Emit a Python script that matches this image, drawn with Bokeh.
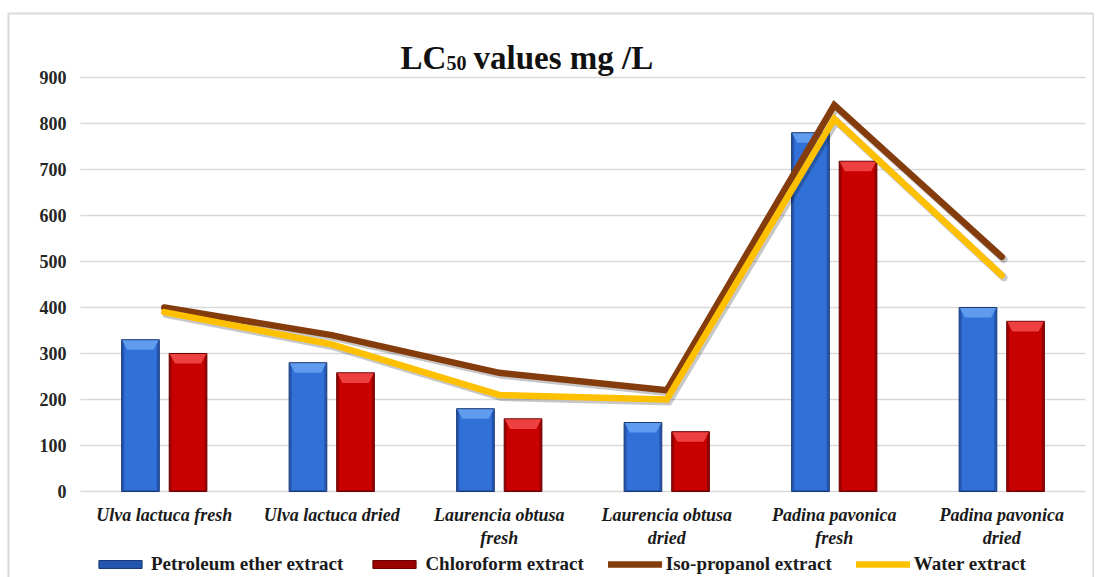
from bokeh.plotting import figure
from bokeh.models import (Legend, LegendItem, Label, LabelSet, ColumnDataSource, Range1d)
from bokeh.core.properties import value
from bokeh.embed import file_html
from bokeh.resources import INLINE

# ---------------- data ----------------
categories = ["Ulva lactuca fresh", "Ulva lactuca dried", "Laurencia obtusa fresh",
              "Laurencia obtusa dried", "Padina pavonica fresh", "Padina pavonica dried"]
label_line1 = ["Ulva lactuca fresh", "Ulva lactuca dried", "Laurencia obtusa",
               "Laurencia obtusa", "Padina pavonica", "Padina pavonica"]
label_line2 = ["", "", "fresh", "dried", "fresh", "dried"]
petroleum_ether = [330, 280, 180, 150, 780, 400]
chloroform = [300, 258, 158, 130, 718, 370]
iso_propanol = [400, 340, 258, 220, 840, 510]
water = [390, 320, 210, 200, 810, 470]
y_ticks = [0, 100, 200, 300, 400, 500, 600, 700, 800, 900]
series_names = ["Petroleum ether extract", "Chloroform extract", "Iso-propanol extract", "Water extract"]

FONT = "Liberation Serif"
W, H = 1094, 577
# screen layout of the plotting area (pixels)
PL, PR, PT, PB = 80, 1085, 77, 491
YMAX = y_ticks[-1]
ppx = (PR - PL) / len(categories)        # pixels per category
ppy = (PB - PT) / YMAX                    # pixels per unit


def sx(px):
    return (px - PL) / ppx


def sy(py):
    return (PB - py) / ppy


BAR_OFF = 0.142
BAR_W = 0.225

p = figure(width=W, height=H, x_range=Range1d(sx(0), sx(W)), y_range=Range1d(sy(H), sy(0)),
           output_backend="svg", toolbar_location=None,
           min_border=0, min_border_left=0, min_border_right=0, min_border_top=0,
           min_border_bottom=0)
p.outline_line_color = None
p.grid.visible = False
p.axis.visible = False

cx = [i + 0.5 for i in range(len(categories))]

# outer chart border
p.quad(left=sx(8), right=sx(1093), top=sy(13), bottom=sy(H + 20), fill_color=None,
       line_color="#D9D9D9", line_width=2)

# horizontal gridlines
p.segment(x0=0, x1=len(categories), y0=y_ticks, y1=y_ticks, line_color="#D9D9D9", line_width=1.5)

# y tick labels
tick_src = ColumnDataSource(dict(y=y_ticks, t=[str(t) for t in y_ticks]))
p.add_layout(LabelSet(x=sx(66), y="y", text="t", source=tick_src, text_align="right",
                      text_baseline="middle", text_font=value(FONT), text_font_style="bold",
                      text_font_size="18px", text_color="#262626"))

src = ColumnDataSource(dict(cat=categories, cx=cx,
                            xpe=[c - BAR_OFF for c in cx], xch=[c + BAR_OFF for c in cx],
                            xsh=[c + 0.012 for c in cx],
                            pe=petroleum_ether, ch=chloroform,
                            iso=iso_propanol, wat=water,
                            iso_sh=[v - 5 for v in iso_propanol],
                            wat_sh=[v - 5 for v in water],
                            l1=label_line1, l2=label_line2))


def bar_series(vals, xcol, edge, body, bevel, outline):
    base = p.vbar(x=xcol, top=vals, width=BAR_W, source=src, fill_color=edge,
                  line_color=outline, line_width=1)
    inner_src = ColumnDataSource(dict(x=src.data[xcol], top=[v - 6 for v in src.data[vals]]))
    p.vbar(x="x", top="top", bottom=3, width=BAR_W - 0.03, source=inner_src,
           fill_color=body, line_color=None)
    hw = BAR_W / 2 - 0.004
    d = 0.03
    h = 22
    xs, ys = [], []
    for c, v in zip(src.data[xcol], src.data[vals]):
        xs.append([c - hw, c + hw, c + hw - d, c - hw + d])
        ys.append([v - 1, v - 1, v - h, v - h])
    p.patches(xs, ys, fill_color=bevel, line_color=None)
    return base


r_pe = bar_series("pe", "xpe", "#2455AE", "#3170D7", "#5F9BEE", "#1A3A78")
r_ch = bar_series("ch", "xch", "#9A0000", "#C80000", "#EE4040", "#6A0000")

# line shadows
p.line(x="xsh", y="iso_sh", source=src, line_color="black", line_alpha=0.22, line_width=7.5,
       line_join="miter", line_cap="round")
p.line(x="xsh", y="wat_sh", source=src, line_color="black", line_alpha=0.22, line_width=7.5,
       line_join="miter", line_cap="round")

r_iso = p.line(x="cx", y="iso", source=src, line_color="#843C0C", line_width=6.5,
               line_join="miter", line_cap="round")
r_wat = p.line(x="cx", y="wat", source=src, line_color="#FFC000", line_width=6.5,
               line_join="miter", line_cap="round")

# category labels (two lines)
for col, py in (("l1", 514), ("l2", 537)):
    p.add_layout(LabelSet(x="cx", y=sy(py), text=col, source=src, text_align="center",
                          text_baseline="middle", text_font=value(FONT),
                          text_font_style="bold italic", text_font_size="18px",
                          text_color="#1A1A1A"))

legend = Legend(items=[LegendItem(label=series_names[0], renderers=[r_pe]),
                       LegendItem(label=series_names[1], renderers=[r_ch]),
                       LegendItem(label=series_names[2], renderers=[r_iso]),
                       LegendItem(label=series_names[3], renderers=[r_wat])],
                orientation="horizontal", location=(93, H - 575),
                label_text_font=FONT, label_text_font_style="bold", label_text_font_size="19px",
                label_text_color="#1A1A1A", label_height=14,
                glyph_width=54, glyph_height=10, label_standoff=4, spacing=24,
                border_line_color=None, background_fill_alpha=0, padding=0, margin=0)
p.add_layout(legend, "center")

# title: LC50 values mg /L (subscript 50)
p.add_layout(Label(x=sx(400), y=sy(57), text="LC", text_font=FONT, text_font_style="bold",
                   text_font_size="33px", text_color="#111111", text_baseline="alphabetic"))
p.add_layout(Label(x=sx(446), y=sy(62), text="50", text_font=FONT, text_font_style="bold",
                   text_font_size="20px", text_color="#111111", text_baseline="alphabetic"))
p.add_layout(Label(x=sx(473), y=sy(57), text="values mg /L", text_font=FONT,
                   text_font_style="bold", text_font_size="33px", text_color="#111111",
                   text_baseline="alphabetic"))

open("out.html", "w").write(file_html(p, INLINE))
